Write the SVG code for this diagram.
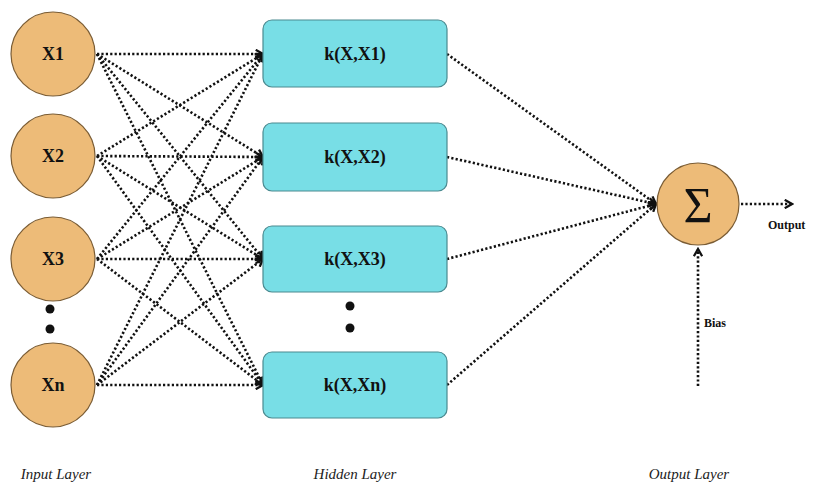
<svg xmlns="http://www.w3.org/2000/svg" width="814" height="485" viewBox="0 0 814 485">
<defs>
<style>
.inp{fill:#EDBB78;stroke:#7a5c34;stroke-width:1.2}
.hid{fill:#78DEE6;stroke:#4a8a90;stroke-width:1.2}
.lbl{font-family:"Liberation Serif","Times New Roman",serif;font-weight:bold;font-size:18px;fill:#111;text-anchor:middle}
.small{font-family:"Liberation Serif","Times New Roman",serif;font-weight:bold;font-size:12px;fill:#111}
.layer{font-family:"Liberation Serif","Times New Roman",serif;font-style:italic;font-size:15px;fill:#222;text-anchor:middle}
.c{stroke:#111;stroke-width:2.6;stroke-dasharray:2.2 2.2;fill:none;marker-end:url(#ah)}
.dot{fill:#111}
</style>
<marker id="ah" viewBox="0 0 10 10" refX="8" refY="5" markerWidth="4" markerHeight="4" orient="auto" markerUnits="strokeWidth">
<path d="M1,1 L8,5 L1,9" fill="none" stroke="#111" stroke-width="2.2"/>
</marker>
</defs>
<rect width="814" height="485" fill="#fff"/>
<g id="connectors">
<line class="c" x1="97" y1="54" x2="263" y2="54"/>
<line class="c" x1="97" y1="54" x2="263" y2="157"/>
<line class="c" x1="97" y1="54" x2="263" y2="259"/>
<line class="c" x1="97" y1="54" x2="263" y2="385"/>
<line class="c" x1="97" y1="156" x2="263" y2="54"/>
<line class="c" x1="97" y1="156" x2="263" y2="157"/>
<line class="c" x1="97" y1="156" x2="263" y2="259"/>
<line class="c" x1="97" y1="156" x2="263" y2="385"/>
<line class="c" x1="97" y1="259" x2="263" y2="54"/>
<line class="c" x1="97" y1="259" x2="263" y2="157"/>
<line class="c" x1="97" y1="259" x2="263" y2="259"/>
<line class="c" x1="97" y1="259" x2="263" y2="385"/>
<line class="c" x1="97" y1="385" x2="263" y2="54"/>
<line class="c" x1="97" y1="385" x2="263" y2="157"/>
<line class="c" x1="97" y1="385" x2="263" y2="259"/>
<line class="c" x1="97" y1="385" x2="263" y2="385"/>
<line class="c" x1="447" y1="54" x2="656" y2="204"/>
<line class="c" x1="447" y1="157" x2="656" y2="204"/>
<line class="c" x1="447" y1="259" x2="656" y2="204"/>
<line class="c" x1="447" y1="385" x2="656" y2="204"/>
<line class="c" x1="741" y1="204" x2="792" y2="204"/>
<line class="c" x1="698" y1="386" x2="698" y2="249"/>
</g>
<g id="x1"><circle class="inp" cx="53" cy="54" r="42"/><text class="lbl" x="53" y="60">X1</text></g>
<g id="x2"><circle class="inp" cx="53" cy="156" r="42"/><text class="lbl" x="53" y="162">X2</text></g>
<g id="x3"><circle class="inp" cx="53" cy="259" r="42"/><text class="lbl" x="53" y="265">X3</text></g>
<g id="xn"><circle class="inp" cx="53" cy="385" r="42"/><text class="lbl" x="53" y="391">Xn</text></g>
<g id="input-dots"><circle class="dot" cx="50" cy="309" r="4.5"/><circle class="dot" cx="50" cy="329" r="4.5"/></g>
<g id="k1"><rect class="hid" x="263" y="20" width="184" height="67" rx="9"/><text class="lbl" x="355" y="60">k(X,X1)</text></g>
<g id="k2"><rect class="hid" x="263" y="123" width="184" height="68" rx="9"/><text class="lbl" x="355" y="163">k(X,X2)</text></g>
<g id="k3"><rect class="hid" x="263" y="226" width="184" height="66" rx="9"/><text class="lbl" x="355" y="265">k(X,X3)</text></g>
<g id="kn"><rect class="hid" x="263" y="352" width="184" height="66" rx="9"/><text class="lbl" x="355" y="391">k(X,Xn)</text></g>
<g id="hidden-dots"><circle class="dot" cx="350" cy="306" r="4.5"/><circle class="dot" cx="350" cy="328" r="4.5"/></g>
<g id="sum"><circle class="inp" cx="698" cy="204" r="41"/><text x="698" y="222" font-family="'Liberation Serif','Times New Roman',serif" font-size="50" text-anchor="middle" fill="#111">Σ</text></g>
<text class="small" x="768" y="229">Output</text>
<text class="small" x="704" y="327">Bias</text>
<text class="layer" x="56" y="479">Input Layer</text>
<text class="layer" x="355" y="479">Hidden Layer</text>
<text class="layer" x="689" y="479">Output Layer</text>
</svg>
